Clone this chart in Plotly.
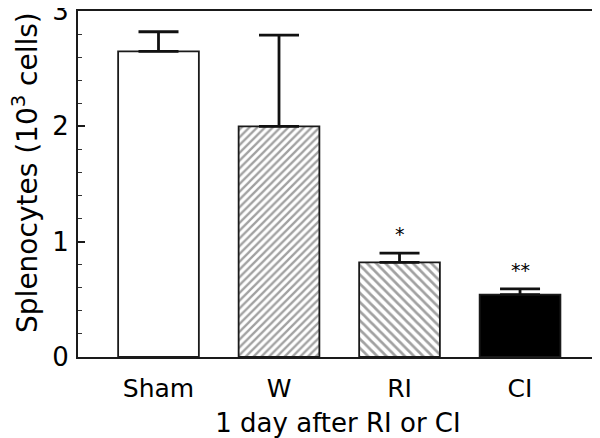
import plotly.graph_objects as go

categories = ["Sham", "W", "RI", "CI"]
means = [2.65, 2.0, 0.82, 0.54]
sem = [0.17, 0.79, 0.08, 0.05]
stars = ["", "", "*", "**"]

x = list(range(len(categories)))
FONT = "DejaVu Sans, sans-serif"

fig = go.Figure()
fig.add_trace(go.Bar(
    x=x, y=means, width=0.67,
    marker=dict(
        color=["white", "white", "white", "black"],
        line=dict(color="#1a1a1a", width=1.8),
        pattern=dict(
            shape=["", "/", "\\", ""],
            size=[5.5, 5.5, 6.5, 5.5],
            solidity=0.42,
            fgcolor="#111",
            bgcolor="white",
        ),
    ),
    error_y=dict(type="data", symmetric=False, array=sem,
                 arrayminus=[0] * len(sem), color="#111",
                 thickness=2.8, width=20),
    showlegend=False,
))

for xi, m, s, st in zip(x, means, sem, stars):
    if st:
        fig.add_annotation(x=xi, y=m + s, yshift=19, text=st, showarrow=False,
                           font=dict(family=FONT, size=19, color="black"))

# y-axis title as a rotated annotation (slightly above the axis centre, as in the reference)
fig.add_annotation(xref="paper", yref="paper", x=-0.1, y=0.532,
                   xanchor="center", yanchor="middle", textangle=-90,
                   text="Splenocytes (10<sup>3</sup> cells)", showarrow=False,
                   font=dict(family=FONT, size=28, color="black"))

# page body has an 8px margin, so the figure is shifted by 8px
fig.update_layout(
    width=592, height=430,
    margin=dict(l=70, r=2, t=3, b=81, autoexpand=False),
    paper_bgcolor="white", plot_bgcolor="white",
    font=dict(family=FONT, color="black"),
)
fig.update_xaxes(
    range=[-0.668, 3.647], tickvals=x, ticktext=categories,
    showline=True, linecolor="#1a1a1a", linewidth=2, mirror=True,
    ticks="", showgrid=False, zeroline=False, automargin=False,
    tickfont=dict(family=FONT, size=25, color="black"),
    ticklabelstandoff=8,
    title=dict(text="1 day after RI or CI", standoff=12,
               font=dict(family=FONT, size=26, color="black")),
)
fig.update_yaxes(
    range=[0, 3], tickvals=[0, 1, 2, 3],
    showline=True, linecolor="#1a1a1a", linewidth=2, mirror=True,
    ticks="inside", ticklen=7, tickwidth=1.5, tickcolor="#1a1a1a",
    minor=dict(dtick=0.2, ticks="inside", ticklen=4, tickwidth=1.2, tickcolor="#333"),
    showgrid=False, zeroline=False, automargin=False,
    ticklabeloverflow="allow",
    tickfont=dict(family=FONT, size=26, color="black"),
    ticklabelstandoff=2,
)

fig.write_html("out.html")
